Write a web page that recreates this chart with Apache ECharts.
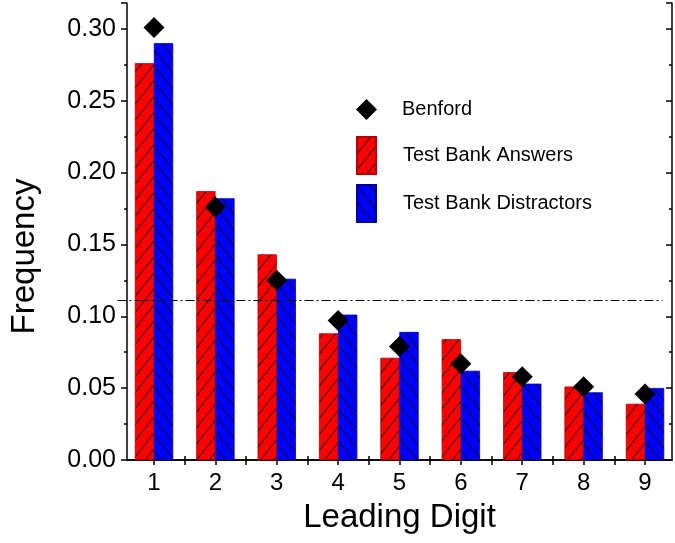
<!DOCTYPE html>
<html>
<head>
<meta charset="utf-8">
<script src="https://cdn.jsdelivr.net/npm/echarts@6/dist/echarts.min.js"></script>
<style>
  html, body { margin: 0; padding: 0; background: #fff; }
  #chart { width: 675px; height: 543px; }
</style>
</head>
<body>
<div id="chart"></div>
<script>
// digits 1..9
const digits = [1, 2, 3, 4, 5, 6, 7, 8, 9];
const answers = [0.276, 0.187, 0.143, 0.088, 0.071, 0.084, 0.061, 0.051, 0.039];
const distractors = [0.290, 0.182, 0.126, 0.101, 0.089, 0.062, 0.053, 0.047, 0.050];
const benford = [0.301, 0.176, 0.125, 0.097, 0.079, 0.067, 0.058, 0.051, 0.046];
const uniformLevel = 1 / 9;
const halfTicks = [1.5, 2.5, 3.5, 4.5, 5.5, 6.5, 7.5, 8.5];
const topTicks = [1, 1.5, 2, 2.5, 3, 3.5, 4, 4.5, 5, 5.5, 6, 6.5, 7, 7.5, 8, 8.5, 9];
const xMin = 0.56, xMax = 9.44;

const font = 'Liberation Sans, Arial, sans-serif';
const pairs = (vals) => digits.map((d, i) => [d, vals[i]]);

const hatch = (rot) => ({
  symbol: 'rect',
  symbolSize: 1,
  dashArrayX: [1, 0],
  dashArrayY: [1, 9],
  rotation: rot,
  color: 'rgba(0,0,0,0.75)'
});

const chart = echarts.init(document.getElementById('chart'));

const option = {
  animation: false,
  grid: { left: 108, right: 3, top: 3, bottom: 83 },
  legend: [
    {
      orient: 'vertical',
      left: 351,
      top: 94,
      itemWidth: 21,
      itemHeight: 21,
      data: [{ name: 'Benford', icon: 'diamond' }],
      textStyle: { fontFamily: font, fontSize: 20, color: '#000', padding: [0, 0, 0, 20] }
    },
    {
      orient: 'vertical',
      left: 351,
      top: 131,
      itemWidth: 19,
      itemHeight: 37,
      itemGap: 9,
      data: [
        { name: 'Test Bank Answers', icon: 'rect' },
        { name: 'Test Bank Distractors', icon: 'rect' }
      ],
      textStyle: { fontFamily: font, fontSize: 20, color: '#000', padding: [0, 0, 0, 22] }
    }
  ],
  xAxis: [
    {
      type: 'value',
      min: xMin,
      max: xMax,
      position: 'bottom',
      name: 'Leading Digit',
      nameLocation: 'middle',
      nameGap: 41,
      nameTextStyle: { fontFamily: font, fontSize: 33, color: '#000' },
      axisLine: { lineStyle: { color: '#000', width: 1.5 } },
      axisTick: { show: true, inside: true, length: 4, customValues: halfTicks, lineStyle: { color: '#000', width: 1.5 } },
      axisLabel: { customValues: digits, margin: 11, fontFamily: font, fontSize: 24, color: '#000' },
      splitLine: { show: false }
    },
    {
      type: 'value',
      min: xMin,
      max: xMax,
      position: 'top',
      axisLine: { lineStyle: { color: '#000', width: 1.5 } },
      axisTick: { show: true, inside: true, length: 5, customValues: topTicks, lineStyle: { color: '#000', width: 1.5 } },
      axisLabel: { show: false },
      splitLine: { show: false }
    }
  ],
  yAxis: [
    {
      type: 'value',
      min: 0,
      max: 0.318,
      interval: 0.05,
      position: 'left',
      name: 'Frequency',
      nameLocation: 'middle',
      nameGap: 86,
      nameTextStyle: { fontFamily: font, fontSize: 33, color: '#000', padding: [0, 50, 0, 0] },
      axisLine: { show: true, lineStyle: { color: '#000', width: 1.5 } },
      axisTick: { show: true, length: 6, lineStyle: { color: '#000', width: 1.5 } },
      minorTick: { show: true, splitNumber: 2, length: 3, lineStyle: { color: '#000', width: 1.5 } },
      axisLabel: {
        margin: 11,
        fontFamily: font,
        fontSize: 25,
        color: '#000',
        formatter: (v) => Math.abs(v * 20 - Math.round(v * 20)) < 1e-6 ? v.toFixed(2) : ''
      },
      splitLine: { show: false }
    },
    {
      type: 'value',
      min: 0,
      max: 0.318,
      interval: 0.05,
      position: 'right',
      axisLine: { show: true, lineStyle: { color: '#000', width: 1.5 } },
      axisTick: { show: true, inside: true, length: 6, lineStyle: { color: '#000', width: 1.5 } },
      minorTick: { show: true, splitNumber: 2, length: 3, lineStyle: { color: '#000', width: 1.5 } },
      axisLabel: { show: false },
      splitLine: { show: false }
    }
  ],
  series: [
    {
      name: 'Test Bank Answers',
      type: 'bar',
      data: pairs(answers),
      barWidth: 19,
      barGap: '0%',
      itemStyle: { color: '#ff0000', borderColor: '#b00000', borderWidth: 0.5, decal: hatch(-Math.PI / 3.5) },
      markLine: {
        silent: true,
        symbol: 'none',
        label: { show: false },
        lineStyle: { color: '#000', width: 1, type: [9, 3, 2, 3] },
        data: [[{ coord: [xMin, uniformLevel] }, { coord: [xMax, uniformLevel] }]]
      }
    },
    {
      name: 'Test Bank Distractors',
      type: 'bar',
      data: pairs(distractors),
      barWidth: 19,
      barGap: '0%',
      itemStyle: { color: '#0000ff', borderColor: '#0000a0', borderWidth: 0.5, decal: hatch(Math.PI / 3.5) }
    },
    {
      name: 'Benford',
      type: 'scatter',
      data: pairs(benford),
      symbol: 'diamond',
      symbolSize: 21,
      itemStyle: { color: '#000', opacity: 1 },
      z: 5
    }
  ]
};

chart.setOption(option);
</script>
</body>
</html>
